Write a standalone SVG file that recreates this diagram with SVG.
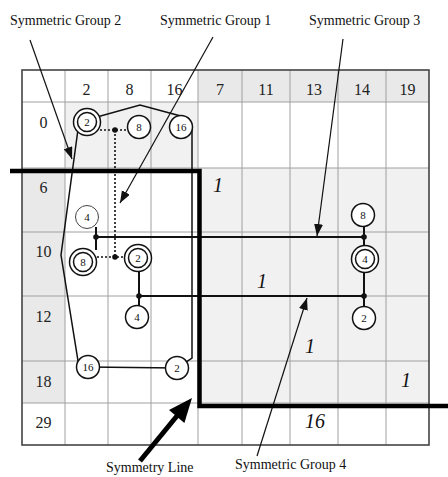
<svg xmlns="http://www.w3.org/2000/svg" width="448" height="477" viewBox="0 0 448 477">
<defs>
<marker id="ah" markerUnits="userSpaceOnUse" markerWidth="13" markerHeight="10" refX="12" refY="4.5" orient="auto">
<path d="M0,0 L12,4.5 L0,9 z" fill="#111"/>
</marker>
</defs>
<style>
.hg{fill:#e9e9e9}
.bg{fill:#f1f1f1}
.grid{stroke:#a0a0a0;stroke-width:1;fill:none}
.hdr{font-family:"Liberation Serif",serif;font-size:16px;fill:#222;text-anchor:middle}
.val{font-family:"Liberation Serif",serif;font-style:italic;font-size:20px;fill:#111;text-anchor:middle}
.lbl{font-family:"Liberation Serif",serif;font-size:14px;fill:#111}
.nd{fill:#fff;stroke:#111;stroke-width:1.5}
.nt{font-family:"Liberation Serif",serif;font-size:11px;fill:#111;text-anchor:middle}
.conn{stroke:#111;stroke-width:2;fill:none}
.dotl{stroke:#111;stroke-width:1.6;stroke-dasharray:2 2;fill:none}
.ann{stroke:#111;stroke-width:1.2;fill:none;marker-end:url(#ah)}
.jn{fill:#111}
</style>
<rect width="448" height="477" fill="#fff"/>
<g id="table">
<rect class="hg" x="198" y="70" width="231" height="32"/>
<rect class="hg" x="22" y="168" width="43" height="235"/>
<rect class="bg" x="65" y="102" width="133" height="66"/>
<rect class="bg" x="198" y="168" width="231" height="235"/>
<g class="grid">
<line x1="65" y1="70" x2="65" y2="445"/>
<line x1="108" y1="70" x2="108" y2="445"/>
<line x1="151" y1="70" x2="151" y2="445"/>
<line x1="198" y1="70" x2="198" y2="445"/>
<line x1="242" y1="70" x2="242" y2="445"/>
<line x1="290" y1="70" x2="290" y2="445"/>
<line x1="338" y1="70" x2="338" y2="445"/>
<line x1="386" y1="70" x2="386" y2="445"/>
<line x1="22" y1="102" x2="429" y2="102"/>
<line x1="22" y1="168" x2="429" y2="168"/>
<line x1="22" y1="232" x2="429" y2="232"/>
<line x1="22" y1="296" x2="429" y2="296"/>
<line x1="22" y1="361" x2="429" y2="361"/>
<line x1="22" y1="403" x2="429" y2="403"/>
</g>
<rect x="22" y="70" width="407" height="375" fill="none" stroke="#444" stroke-width="1.6"/>
<text class="hdr" x="86.5" y="95">2</text>
<text class="hdr" x="129.5" y="95">8</text>
<text class="hdr" x="174.5" y="95">16</text>
<text class="hdr" x="220" y="95">7</text>
<text class="hdr" x="266" y="95">11</text>
<text class="hdr" x="314" y="95">13</text>
<text class="hdr" x="362" y="95">14</text>
<text class="hdr" x="407.5" y="95">19</text>
<text class="hdr" x="43.5" y="128">0</text>
<text class="hdr" x="43.5" y="193">6</text>
<text class="hdr" x="43.5" y="257">10</text>
<text class="hdr" x="43.5" y="322">12</text>
<text class="hdr" x="43.5" y="387">18</text>
<text class="hdr" x="43.5" y="428">29</text>
<text class="val" x="218" y="192">1</text>
<text class="val" x="262" y="288">1</text>
<text class="val" x="310" y="353">1</text>
<text class="val" x="406" y="387">1</text>
<text class="val" x="315" y="428">16</text>
</g>
<g id="connectors">
<path class="conn" style="stroke-width:1.5" d="M79,122 L140,105 L188,118 L192,126 L192,358 L177,368 L88,367 L79,367 L61,255 L79,122"/>
<path class="dotl" d="M100,130 L128,130 M115,130 L115,257 M97,257 L124,257"/>
<path class="conn" d="M96,227 L96,250 M96,237 L364,237 M364,226 L364,307 M139,258 L139,306 M139,296 L364,296"/>
<line class="ann" x1="30" y1="40" x2="72" y2="159"/>
<line class="ann" x1="213" y1="37" x2="120" y2="203"/>
<line class="ann" x1="343" y1="39" x2="317" y2="236"/>
<line class="ann" x1="257" y1="456" x2="307" y2="298"/>
<path d="M10,171 L199.5,171 L199.5,406 L448,406" fill="none" stroke="#000" stroke-width="4.5" stroke-linejoin="miter"/>
<line x1="140" y1="461" x2="181" y2="411" stroke="#000" stroke-width="5"/>
<polygon points="192,398 184.4,422.9 169,410.1" fill="#000"/>
<circle class="jn" cx="115" cy="130" r="2.8"/>
<circle class="jn" cx="115" cy="257" r="2.8"/>
<circle class="jn" cx="96" cy="237" r="2.8"/>
<circle class="jn" cx="364" cy="237" r="2.8"/>
<circle class="jn" cx="139" cy="296" r="2.8"/>
<circle class="jn" cx="364" cy="296" r="2.8"/>
</g>
<g id="n-top-2"><circle class="nd" cx="87" cy="122" r="13.5"/><circle class="nd" cx="87" cy="122" r="9.5"/><text class="nt" x="87" y="126">2</text></g>
<g id="n-top-8"><circle class="nd" cx="139" cy="127" r="11.5"/><text class="nt" x="139" y="131">8</text></g>
<g id="n-top-16"><circle class="nd" cx="181" cy="127" r="11.5"/><text class="nt" x="181" y="131">16</text></g>
<g id="n-4-left"><circle class="nd" style="stroke-width:1;stroke:#444" cx="87" cy="217" r="11.5"/><text class="nt" x="87" y="221">4</text></g>
<g id="n-8-double"><circle class="nd" cx="83" cy="262" r="13.5"/><circle class="nd" cx="83" cy="262" r="9.5"/><text class="nt" x="83" y="266">8</text></g>
<g id="n-2-double"><circle class="nd" cx="138" cy="258" r="13.5"/><circle class="nd" cx="138" cy="258" r="9.5"/><text class="nt" x="138" y="262">2</text></g>
<g id="n-4-mid"><circle class="nd" cx="137" cy="317" r="11.5"/><text class="nt" x="137" y="321">4</text></g>
<g id="n-8-right"><circle class="nd" cx="363" cy="215" r="11.5"/><text class="nt" x="363" y="219">8</text></g>
<g id="n-4-double"><circle class="nd" cx="365" cy="259" r="13.5"/><circle class="nd" cx="365" cy="259" r="9.5"/><text class="nt" x="365" y="263">4</text></g>
<g id="n-2-right"><circle class="nd" cx="364" cy="318" r="11.5"/><text class="nt" x="364" y="322">2</text></g>
<g id="n-16-bottom"><circle class="nd" cx="88" cy="367" r="11.5"/><text class="nt" x="88" y="371">16</text></g>
<g id="n-2-bottom"><circle class="nd" cx="177" cy="368" r="11.5"/><text class="nt" x="177" y="372">2</text></g>
<g id="labels">
<text class="lbl" x="10" y="25">Symmetric Group 2</text>
<text class="lbl" x="160" y="25">Symmetric Group 1</text>
<text class="lbl" x="309" y="25">Symmetric Group 3</text>
<text class="lbl" x="235" y="469">Symmetric Group 4</text>
<text class="lbl" x="106" y="472">Symmetry Line</text>
</g>
</svg>
